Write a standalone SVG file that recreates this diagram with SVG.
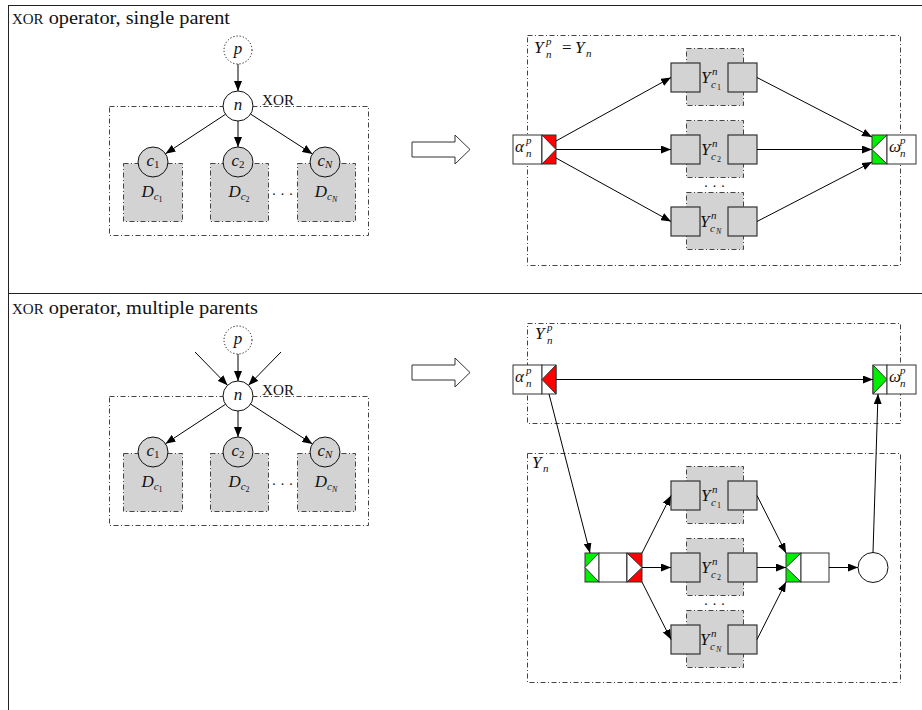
<svg xmlns="http://www.w3.org/2000/svg" width="922" height="710" viewBox="0 0 922 710">
<defs>
<marker id="arrow" markerWidth="10" markerHeight="8" refX="10" refY="4" orient="auto" markerUnits="userSpaceOnUse"><path d="M0,0 L10,4 L0,8 z" fill="#000"/></marker>
<style>
.frame{fill:none;stroke:#222;stroke-width:1}
.dd{fill:none;stroke:#444;stroke-width:1;stroke-dasharray:5 2.5 1 2.5}
.ddg{fill:#d3d3d3;stroke:#444;stroke-width:1;stroke-dasharray:5 2.5 1 2.5}
.node{fill:#fff;stroke:#111;stroke-width:1}
.cnode{fill:#d3d3d3;stroke:#111;stroke-width:1}
.dot{fill:#fff;stroke:#111;stroke-width:1;stroke-dasharray:1.2 2}
.sq{fill:#d3d3d3;stroke:#333;stroke-width:1.2}
.wb{fill:#fff;stroke:#333;stroke-width:1}
.red{fill:#ff0000;stroke:#333;stroke-width:1}
.green{fill:#00ee00;stroke:#333;stroke-width:1}
.tri{fill:#fff;stroke:#333;stroke-width:1}
.edge{fill:none;stroke:#000;stroke-width:1;marker-end:url(#arrow)}
.hollow{fill:#fff;stroke:#333;stroke-width:1}
text{font-family:"Liberation Serif","DejaVu Serif",serif;fill:#111}
.m{font-style:italic;font-size:17px}
.s{font-style:italic;font-size:11px}
.su{font-style:normal;font-size:11px}
.ss{font-style:normal;font-size:8px}
.ssi{font-style:italic;font-size:8px}
.rm{font-style:normal;font-size:17px}
.title{font-size:19px}
.sc{font-size:14px}
.dots{font-size:14px;letter-spacing:5px}
</style>
</defs>

<!-- table frame -->
<g id="frame">
<line class="frame" x1="8" y1="5.5" x2="922" y2="5.5"/>
<line class="frame" x1="8.5" y1="5" x2="8.5" y2="710"/>
<line class="frame" x1="8" y1="293.5" x2="922" y2="293.5"/>
</g>

<text id="title-single" class="title" x="12" y="24" textLength="218" lengthAdjust="spacingAndGlyphs"><tspan class="sc">XOR</tspan> operator, single parent</text>
<text id="title-multi" class="title" x="12" y="314" textLength="246" lengthAdjust="spacingAndGlyphs"><tspan class="sc">XOR</tspan> operator, multiple parents</text>

<!-- ===== single parent: tree ===== -->
<g id="t1-scope"><rect class="dd" x="109.5" y="106.5" width="259" height="129"/></g>
<g id="t1-D1"><rect class="ddg" x="123.5" y="163.5" width="59" height="58"/>
<text x="152" y="197" text-anchor="middle"><tspan class="m">D</tspan><tspan class="s" dy="3">c</tspan><tspan class="ss" dy="2">1</tspan></text></g>
<g id="t1-D2"><rect class="ddg" x="210.5" y="163.5" width="58" height="58"/>
<text x="239" y="197" text-anchor="middle"><tspan class="m">D</tspan><tspan class="s" dy="3">c</tspan><tspan class="ss" dy="2">2</tspan></text></g>
<g id="t1-DN"><rect class="ddg" x="297.5" y="163.5" width="58" height="58"/>
<text x="326" y="197" text-anchor="middle"><tspan class="m">D</tspan><tspan class="s" dy="3">c</tspan><tspan class="ssi" dy="2">N</tspan></text></g>
<text class="dots" x="285" y="195" text-anchor="middle">...</text>
<g id="t1-p"><circle class="dot" cx="238" cy="50" r="14"/><text class="m" x="238" y="54" text-anchor="middle">p</text></g>
<g id="t1-n"><circle class="node" cx="238" cy="106" r="15"/><text class="m" x="238" y="110" text-anchor="middle">n</text>
<text class="sc" x="262" y="105" textLength="32" lengthAdjust="spacingAndGlyphs">XOR</text></g>
<g id="t1-c1"><circle class="cnode" cx="153" cy="162" r="15"/><text x="153" y="166" text-anchor="middle"><tspan class="m">c</tspan><tspan class="su" dy="2">1</tspan></text></g>
<g id="t1-c2"><circle class="cnode" cx="238" cy="162" r="15"/><text x="238" y="166" text-anchor="middle"><tspan class="m">c</tspan><tspan class="su" dy="2">2</tspan></text></g>
<g id="t1-cN"><circle class="cnode" cx="325" cy="162" r="15"/><text x="325" y="166" text-anchor="middle"><tspan class="m">c</tspan><tspan class="s" dy="2">N</tspan></text></g>

<!-- ===== multiple parents: tree ===== -->
<g id="t2-scope"><rect class="dd" x="109.5" y="396.5" width="259" height="129"/></g>
<g id="t2-D1"><rect class="ddg" x="123.5" y="453.5" width="59" height="58"/>
<text x="152" y="487" text-anchor="middle"><tspan class="m">D</tspan><tspan class="s" dy="3">c</tspan><tspan class="ss" dy="2">1</tspan></text></g>
<g id="t2-D2"><rect class="ddg" x="210.5" y="453.5" width="58" height="58"/>
<text x="239" y="487" text-anchor="middle"><tspan class="m">D</tspan><tspan class="s" dy="3">c</tspan><tspan class="ss" dy="2">2</tspan></text></g>
<g id="t2-DN"><rect class="ddg" x="297.5" y="453.5" width="58" height="58"/>
<text x="326" y="487" text-anchor="middle"><tspan class="m">D</tspan><tspan class="s" dy="3">c</tspan><tspan class="ssi" dy="2">N</tspan></text></g>
<text class="dots" x="285" y="485" text-anchor="middle">...</text>
<g id="t2-p"><circle class="dot" cx="238" cy="340" r="14"/><text class="m" x="238" y="344" text-anchor="middle">p</text></g>
<g id="t2-n"><circle class="node" cx="238" cy="396" r="15"/><text class="m" x="238" y="400" text-anchor="middle">n</text>
<text class="sc" x="262" y="395" textLength="32" lengthAdjust="spacingAndGlyphs">XOR</text></g>
<g id="t2-c1"><circle class="cnode" cx="153" cy="452" r="15"/><text x="153" y="456" text-anchor="middle"><tspan class="m">c</tspan><tspan class="su" dy="2">1</tspan></text></g>
<g id="t2-c2"><circle class="cnode" cx="238" cy="452" r="15"/><text x="238" y="456" text-anchor="middle"><tspan class="m">c</tspan><tspan class="su" dy="2">2</tspan></text></g>
<g id="t2-cN"><circle class="cnode" cx="325" cy="452" r="15"/><text x="325" y="456" text-anchor="middle"><tspan class="m">c</tspan><tspan class="s" dy="2">N</tspan></text></g>

<!-- transformation arrows -->
<g id="map-single"><polygon class="hollow" points="412,142 455,142 455,135 470,149.5 455,164 455,157 412,157"/></g>
<g id="map-multi"><polygon class="hollow" points="412,365 455,365 455,358 470,372.5 455,387 455,380 412,380"/></g>

<!-- ===== single parent: net ===== -->
<g id="n1-scope"><rect class="dd" x="527.5" y="35.5" width="373" height="230"/>
<text class="m" x="534" y="53">Y<tspan class="s" x="546" y="45">p</tspan><tspan class="s" x="546" y="58">n</tspan><tspan class="rm" x="562" y="53">=</tspan><tspan x="575" y="53">Y</tspan><tspan class="s" x="586" y="57">n</tspan></text></g>

<g id="n1-Y1"><rect class="ddg" x="686.5" y="48.5" width="57" height="57"/>
<rect class="sq" x="671" y="63" width="29" height="29"/><rect class="sq" x="728" y="63" width="29" height="29"/>
<text class="m" x="701" y="83">Y<tspan class="s" x="712" y="75">n</tspan><tspan class="s" x="711" y="88">c</tspan><tspan class="ss" x="717" y="90">1</tspan></text></g>
<g id="n1-Y2"><rect class="ddg" x="686.5" y="120.5" width="57" height="57"/>
<rect class="sq" x="671" y="135" width="29" height="29"/><rect class="sq" x="728" y="135" width="29" height="29"/>
<text class="m" x="701" y="155">Y<tspan class="s" x="712" y="147">n</tspan><tspan class="s" x="711" y="160">c</tspan><tspan class="ss" x="717" y="162">2</tspan></text></g>
<text class="dots" x="717" y="187" text-anchor="middle">...</text>
<g id="n1-YN"><rect class="ddg" x="686.5" y="192.5" width="57" height="57"/>
<rect class="sq" x="671" y="207" width="29" height="29"/><rect class="sq" x="728" y="207" width="29" height="29"/>
<text class="m" x="700" y="227">Y<tspan class="s" x="711" y="219">n</tspan><tspan class="s" x="710" y="232">c</tspan><tspan class="ssi" x="716" y="234">N</tspan></text></g>

<g id="n1-alpha"><rect class="wb" x="513" y="135" width="29" height="29"/>
<rect class="red" x="542" y="135" width="14" height="29"/><polygon class="tri" points="542,135 556,149.5 542,164"/>
<text class="m" x="515" y="152">α<tspan class="s" x="526" y="144">p</tspan><tspan class="s" x="526" y="157">n</tspan></text></g>
<g id="n1-omega"><rect class="green" x="872" y="135" width="15" height="29"/><polygon class="tri" points="887,135 872,149.5 887,164"/>
<rect class="wb" x="887" y="135" width="29" height="29"/>
<text class="m" x="889" y="152">ω<tspan class="s" x="900" y="144">p</tspan><tspan class="s" x="900" y="157">n</tspan></text></g>

<!-- ===== multiple parents: net ===== -->
<g id="n2-outer"><rect class="dd" x="527.5" y="323.5" width="373" height="100"/>
<text class="m" x="535" y="339">Y<tspan class="s" x="547" y="331">p</tspan><tspan class="s" x="547" y="344">n</tspan></text></g>
<g id="n2-inner"><rect class="dd" x="527.5" y="453.5" width="373" height="229"/>
<text class="m" x="532" y="468">Y<tspan class="s" x="543" y="472">n</tspan></text></g>

<g id="n2-alpha"><rect class="wb" x="513" y="365" width="29" height="29"/>
<rect class="wb" x="542" y="365" width="14" height="29"/><polygon class="red" points="556,365 542,379.5 556,394"/>
<text class="m" x="515" y="382">α<tspan class="s" x="526" y="374">p</tspan><tspan class="s" x="526" y="387">n</tspan></text></g>
<g id="n2-omega"><rect class="wb" x="873" y="365" width="14" height="29"/><polygon class="green" points="873,365 887,379.5 873,394"/>
<rect class="wb" x="887" y="365" width="29" height="29"/>
<text class="m" x="889" y="382">ω<tspan class="s" x="900" y="374">p</tspan><tspan class="s" x="900" y="387">n</tspan></text></g>

<g id="n2-split"><rect class="green" x="585" y="553" width="14" height="29"/><polygon class="tri" points="599,553 585,567.5 599,582"/>
<rect class="wb" x="599" y="553" width="28" height="29"/>
<rect class="red" x="627" y="553" width="15" height="29"/><polygon class="tri" points="627,553 642,567.5 627,582"/></g>

<g id="n2-Y1"><rect class="ddg" x="686.5" y="466.5" width="57" height="57"/>
<rect class="sq" x="671" y="481" width="29" height="29"/><rect class="sq" x="728" y="481" width="29" height="29"/>
<text class="m" x="701" y="501">Y<tspan class="s" x="712" y="493">n</tspan><tspan class="s" x="711" y="506">c</tspan><tspan class="ss" x="717" y="508">1</tspan></text></g>
<g id="n2-Y2"><rect class="ddg" x="686.5" y="538.5" width="57" height="57"/>
<rect class="sq" x="671" y="553" width="29" height="29"/><rect class="sq" x="728" y="553" width="29" height="29"/>
<text class="m" x="701" y="573">Y<tspan class="s" x="712" y="565">n</tspan><tspan class="s" x="711" y="578">c</tspan><tspan class="ss" x="717" y="580">2</tspan></text></g>
<text class="dots" x="717" y="605" text-anchor="middle">...</text>
<g id="n2-YN"><rect class="ddg" x="686.5" y="610.5" width="57" height="57"/>
<rect class="sq" x="671" y="625" width="29" height="29"/><rect class="sq" x="728" y="625" width="29" height="29"/>
<text class="m" x="700" y="645">Y<tspan class="s" x="711" y="637">n</tspan><tspan class="s" x="710" y="650">c</tspan><tspan class="ssi" x="716" y="652">N</tspan></text></g>

<g id="n2-join"><rect class="green" x="786" y="553" width="15" height="29"/><polygon class="tri" points="801,553 786,567.5 801,582"/>
<rect class="wb" x="801" y="553" width="28" height="29"/></g>
<g id="n2-end"><circle class="node" cx="873" cy="567.5" r="15"/></g>

<!-- connectors -->
<g id="connectors">
<line class="edge" x1="238" y1="64" x2="238" y2="91"/>
<line class="edge" x1="225.5" y1="114.3" x2="165.5" y2="153.7"/>
<line class="edge" x1="238" y1="121" x2="238" y2="147"/>
<line class="edge" x1="250.6" y1="114.1" x2="312.4" y2="153.9"/>

<line class="edge" x1="238" y1="354" x2="238" y2="381"/>
<line class="edge" x1="195" y1="352" x2="227.5" y2="385.3"/>
<line class="edge" x1="281" y1="352" x2="248.5" y2="385.3"/>
<line class="edge" x1="225.5" y1="404.3" x2="165.5" y2="443.7"/>
<line class="edge" x1="238" y1="411" x2="238" y2="437"/>
<line class="edge" x1="250.6" y1="404.1" x2="312.4" y2="443.9"/>

<line class="edge" x1="556" y1="141" x2="671" y2="77.5"/>
<line class="edge" x1="556" y1="149.5" x2="671" y2="149.5"/>
<line class="edge" x1="556" y1="158" x2="671" y2="221.5"/>
<line class="edge" x1="757" y1="77.5" x2="872" y2="137"/>
<line class="edge" x1="757" y1="149.5" x2="872" y2="149.5"/>
<line class="edge" x1="757" y1="221.5" x2="872" y2="162"/>

<line class="edge" x1="556" y1="379.5" x2="873" y2="379.5"/>
<line class="edge" x1="549" y1="394" x2="590" y2="553"/>
<line class="edge" x1="642" y1="553" x2="671" y2="495.5"/>
<line class="edge" x1="642" y1="567.5" x2="671" y2="567.5"/>
<line class="edge" x1="642" y1="582" x2="671" y2="639.5"/>
<line class="edge" x1="757" y1="495.5" x2="786" y2="553"/>
<line class="edge" x1="757" y1="567.5" x2="786" y2="567.5"/>
<line class="edge" x1="757" y1="639.5" x2="786" y2="582"/>
<line class="edge" x1="829" y1="567.5" x2="858" y2="567.5"/>
<line class="edge" x1="873" y1="552.5" x2="878" y2="394"/>
</g>
</svg>
